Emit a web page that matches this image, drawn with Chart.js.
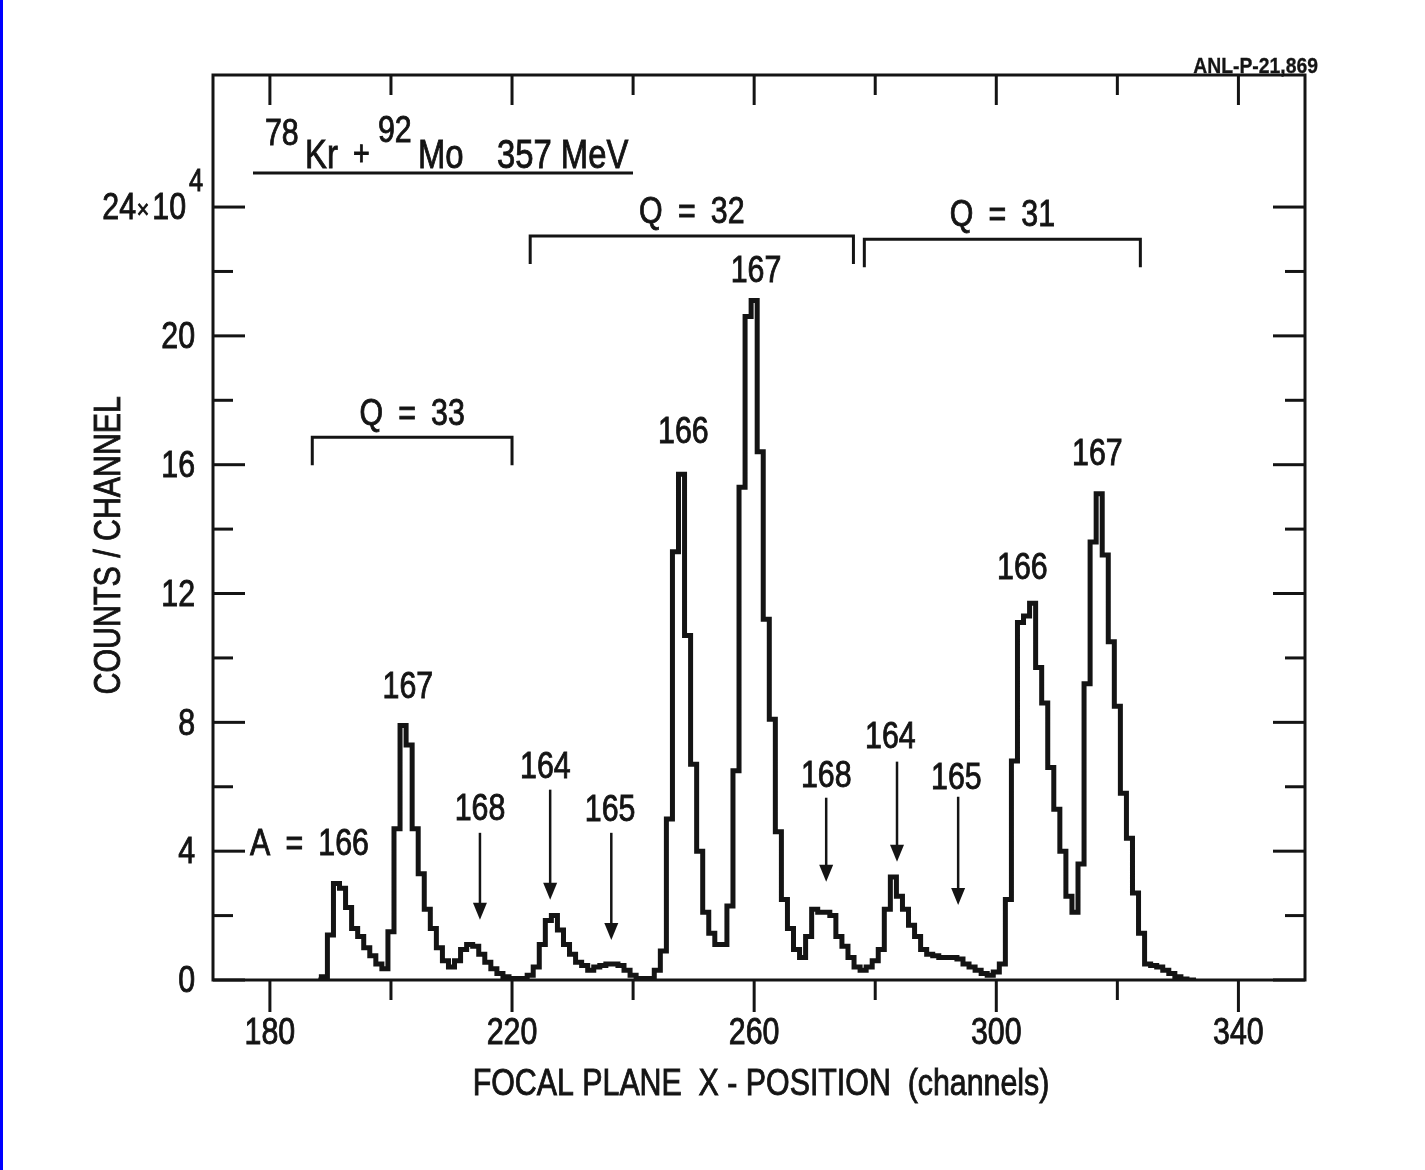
<!DOCTYPE html>
<html>
<head>
<meta charset="utf-8">
<script src="https://cdn.jsdelivr.net/npm/chart.js@4.4.1/dist/chart.umd.min.js"></script>
<style>
  html, body { margin: 0; padding: 0; background: #fff; }
  #wrap { width: 1425px; height: 1170px; }
</style>
</head>
<body>
<div id="wrap"><canvas id="chart" width="1425" height="1170"></canvas></div>
<script>
// Spectrum: counts per channel (x 10^4) vs focal plane channel
const channels = [
  188, 189, 190, 191, 192, 193, 194, 195, 196, 197, 198, 199,
  200, 201, 202, 203, 204, 205, 206, 207, 208, 209, 210, 211, 212, 213, 214, 215, 216, 217, 218, 219,
  220, 221, 222, 223, 224, 225, 226, 227, 228, 229, 230, 231, 232, 233, 234, 235, 236, 237, 238, 239,
  240, 241, 242, 243, 244, 245, 246, 247, 248, 249, 250, 251, 252, 253, 254, 255, 256, 257, 258, 259,
  260, 261, 262, 263, 264, 265, 266, 267, 268, 269, 270, 271, 272, 273, 274, 275, 276, 277, 278, 279,
  280, 281, 282, 283, 284, 285, 286, 287, 288, 289, 290, 291, 292, 293, 294, 295, 296, 297, 298, 299,
  300, 301, 302, 303, 304, 305, 306, 307, 308, 309, 310, 311, 312, 313, 314, 315, 316, 317, 318, 319,
  320, 321, 322, 323, 324, 325, 326, 327, 328, 329, 330, 331, 332, 333
];
const counts = [
  0, 0.1, 1.4, 3.0, 2.85, 2.25, 1.6, 1.35, 1.0, 0.75, 0.5, 0.35,
  1.5, 4.7, 7.9, 7.3, 4.7, 3.3, 2.2, 1.6, 1.0, 0.6, 0.4, 0.6, 0.95, 1.1, 1.05, 0.8, 0.55, 0.35, 0.2, 0.1,
  0.05, 0.05, 0.05, 0.15, 0.4, 1.1, 1.85, 2.0, 1.55, 1.1, 0.8, 0.55, 0.45, 0.3, 0.4, 0.45, 0.5, 0.5, 0.45, 0.3,
  0.15, 0.05, 0.05, 0.05, 0.3, 0.9, 5.0, 13.3, 15.7, 10.7, 6.7, 4.0, 2.1, 1.45, 1.1, 1.1, 2.3, 6.5, 15.3, 20.6,
  21.1, 16.4, 11.2, 8.1, 4.6, 2.5, 1.6, 0.95, 0.7, 1.35, 2.2, 2.1, 2.1, 2.0, 1.35, 1.05, 0.7, 0.4, 0.3, 0.4,
  0.6, 0.95, 2.2, 3.2, 2.6, 2.2, 1.7, 1.35, 0.95, 0.8, 0.75, 0.7, 0.7, 0.7, 0.65, 0.5, 0.4, 0.3, 0.2, 0.15,
  0.25, 0.5, 2.5, 6.8, 11.1, 11.3, 11.7, 9.7, 8.6, 6.6, 5.3, 4.0, 2.6, 2.1, 3.6, 9.2, 13.6, 15.1, 13.2, 10.5,
  8.5, 5.8, 4.4, 2.7, 1.45, 0.5, 0.45, 0.4, 0.3, 0.2, 0.1, 0.03, 0, 0
];

// axis ticks
const xTicks = [180, 200, 220, 240, 260, 280, 300, 320, 340];
const xTickLabels = [180, 220, 260, 300, 340];
const yTicks = [0, 2, 4, 6, 8, 10, 12, 14, 16, 18, 20, 22, 24];
const yTickLabels = [0, 4, 8, 12, 16, 20, 24];

// annotations (mass numbers), anchored in data units
const peakLabels = ['167', '168', '164', '165', '166', '167', '168', '164', '165', '166', '167'];
const peakLabelX = [202.8, 214.7, 225.5, 236.2, 248.3, 260.3, 271.9, 282.5, 293.4, 304.3, 316.7];
const peakLabelY = [9.08, 5.28, 6.59, 5.25, 17.0, 22.0, 6.31, 7.52, 6.25, 12.78, 16.32];

const arrowX = [214.7, 226.3, 236.4, 271.9, 283.6, 293.7];
const arrowFrom = [4.57, 5.91, 4.57, 5.66, 6.78, 5.69];
const arrowTo = [1.87, 2.49, 1.24, 3.05, 3.67, 2.33];

const chargeLabels = ['Q\u2002=\u200233', 'Q\u2002=\u200232', 'Q\u2002=\u200231'];
const bracketStart = [187.0, 223.0, 278.2];
const bracketEnd = [220.0, 276.4, 323.8];
const bracketTop = [16.85, 23.1, 23.0];
const bracketDrop = [0.87, 0.87, 0.87];

const INK = '#141414';
const FONT = '"Liberation Sans", Arial, sans-serif';

function txt(ctx, s, x, y, size, align = 'center', opts = {}) {
    ctx.save();
    ctx.translate(x, y);
    if (opts.rotate) ctx.rotate(opts.rotate);
    ctx.scale(opts.sx || 0.82, 1);
    ctx.font = `${opts.weight || 'normal'} ${size}px ${FONT}`;
    ctx.fillStyle = INK;
    ctx.strokeStyle = INK;
    ctx.lineWidth = opts.weight ? 0.3 : 0.9;
    ctx.textAlign = align;
    ctx.textBaseline = opts.baseline || 'middle';
    ctx.fillText(s, 0, 0);
    ctx.strokeText(s, 0, 0);
    ctx.restore();
}

function seg(ctx, x1, y1, x2, y2) {
    ctx.beginPath();
    ctx.moveTo(x1, y1);
    ctx.lineTo(x2, y2);
    ctx.stroke();
}

const framePlugin = {
    id: 'frame',
    beforeDraw(chart) {
        const ctx = chart.ctx;
        ctx.save();
        ctx.fillStyle = '#fff';
        ctx.fillRect(0, 0, chart.width, chart.height);
        ctx.fillStyle = '#0000ff';
        ctx.fillRect(0, 0, 3, chart.height);
        ctx.restore();
    },
    afterDatasetsDraw(chart) {
        const { ctx, chartArea: { left, right, top, bottom }, scales: { x, y } } = chart;
        ctx.save();
        ctx.strokeStyle = INK;
        ctx.lineWidth = 3;
        ctx.lineCap = 'butt';
        ctx.strokeRect(left, top, right - left, bottom - top);

        // y ticks (inside, both sides)
        yTicks.forEach(v => {
            const py = y.getPixelForValue(v);
            const len = yTickLabels.includes(v) ? 32 : 20;
            seg(ctx, left, py, left + len, py);
            seg(ctx, right, py, right - len, py);
        });
        // x ticks: bottom outward, top inward
        xTicks.forEach(c => {
            const px = x.getPixelForValue(c);
            const major = xTickLabels.includes(c);
            seg(ctx, px, bottom, px, bottom + (major ? 32 : 20));
            seg(ctx, px, top, px, top + (major ? 30 : 20));
        });

        // tick labels
        yTickLabels.forEach(v => {
            const py = y.getPixelForValue(v);
            if (v === 24) {
                txt(ctx, '10', left - 27, py + 2, 37, 'right');
                txt(ctx, '4', left - 24, py - 25, 31, 'left');
                txt(ctx, '×', left - 70, py + 4, 26, 'center');
                txt(ctx, '24', left - 77, py + 2, 37, 'right');
            } else {
                txt(ctx, String(v), left - 18, py + 2, 37, 'right');
            }
        });
        xTickLabels.forEach(c => {
            txt(ctx, String(c), x.getPixelForValue(c), bottom + 54, 37, 'center');
        });

        // axis titles
        txt(ctx, 'FOCAL PLANE  X - POSITION  (channels)', (left + right) / 2 + 2, bottom + 105, 37, 'center');
        txt(ctx, 'COUNTS / CHANNEL', left - 103, y.getPixelForValue(13.5), 37, 'center', { rotate: -Math.PI / 2 });

        // reaction title
        txt(ctx, '78', left + 52, top + 60, 37, 'left');
        txt(ctx, 'Kr', left + 92, top + 82, 40, 'left');
        txt(ctx, '+', left + 140, top + 80, 35, 'left');
        txt(ctx, '92', left + 165, top + 57, 37, 'left');
        txt(ctx, 'Mo', left + 205, top + 82, 40, 'left');
        txt(ctx, '357 MeV', left + 284, top + 82, 40, 'left');
        seg(ctx, left + 40, top + 98, left + 420, top + 98);

        txt(ctx, 'ANL-P-21,869', right + 13, top - 8, 22, 'right', { weight: 'bold', sx: 0.88 });

        // A = 166 note
        txt(ctx, 'A\u2002=\u2002166', left + 37, y.getPixelForValue(4) - 6, 37, 'left');

        // mass labels
        peakLabels.forEach((s, i) => {
            txt(ctx, s, x.getPixelForValue(peakLabelX[i]), y.getPixelForValue(peakLabelY[i]), 37, 'center');
        });

        // arrows
        ctx.lineWidth = 2.5;
        ctx.fillStyle = INK;
        arrowX.forEach((c, i) => {
            const px = x.getPixelForValue(c);
            const y1 = y.getPixelForValue(arrowFrom[i]);
            const y2 = y.getPixelForValue(arrowTo[i]);
            seg(ctx, px, y1, px, y2 - 10);
            ctx.beginPath();
            ctx.moveTo(px - 7, y2 - 17);
            ctx.lineTo(px + 7, y2 - 17);
            ctx.lineTo(px, y2);
            ctx.closePath();
            ctx.fill();
        });

        // charge-state brackets
        ctx.lineWidth = 3;
        chargeLabels.forEach((s, i) => {
            const x1 = x.getPixelForValue(bracketStart[i]);
            const x2 = x.getPixelForValue(bracketEnd[i]);
            const yt = y.getPixelForValue(bracketTop[i]);
            const yb = y.getPixelForValue(bracketTop[i] - bracketDrop[i]);
            ctx.beginPath();
            ctx.moveTo(x1, yb);
            ctx.lineTo(x1, yt);
            ctx.lineTo(x2, yt);
            ctx.lineTo(x2, yb);
            ctx.stroke();
            txt(ctx, s, (x1 + x2) / 2, yt - 23, 37, 'center');
        });
        ctx.restore();
    }
};

new Chart(document.getElementById('chart'), {
    type: 'line',
    data: {
        datasets: [{
            data: channels.map((c, i) => ({ x: c, y: counts[i] })),
            stepped: 'middle',
            borderColor: INK,
            borderWidth: 5,
            pointRadius: 0,
            fill: false
        }]
    },
    options: {
        responsive: false,
        animation: false,
        devicePixelRatio: 1,
        layout: { padding: { left: 213, top: 75, right: 120, bottom: 190 } },
        plugins: { legend: { display: false }, tooltip: { enabled: false } },
        scales: {
            x: { type: 'linear', min: 170.6, max: 351, display: false },
            y: { min: 0, max: 28.1, display: false }
        }
    },
    plugins: [framePlugin]
});
</script>
</body>
</html>
